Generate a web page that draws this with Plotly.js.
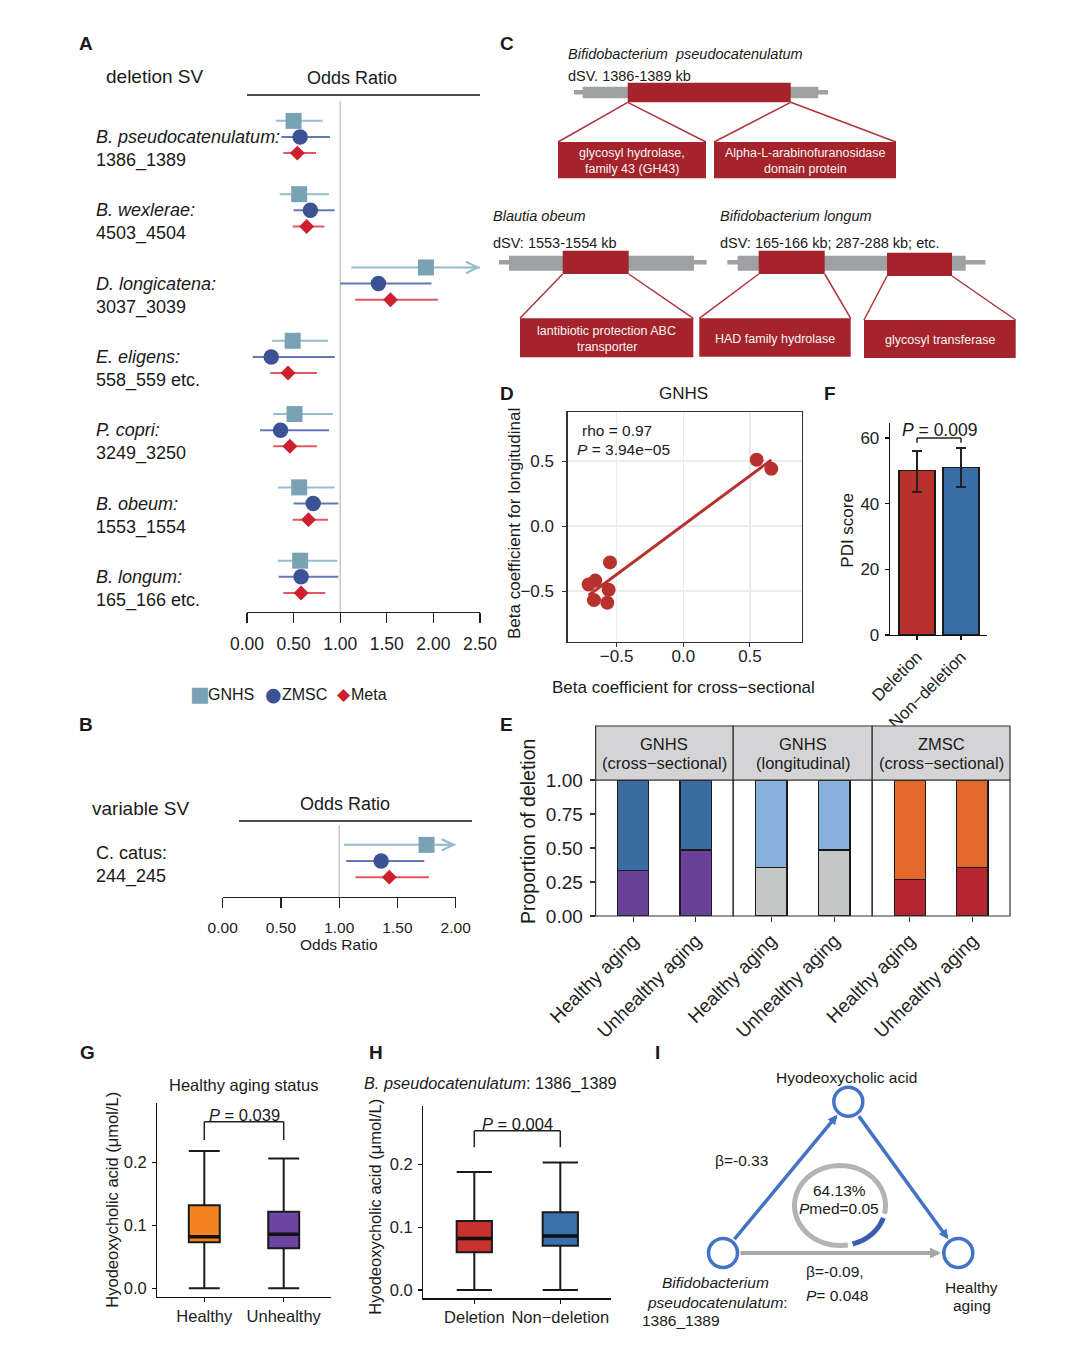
<!DOCTYPE html>
<html><head><meta charset="utf-8">
<script src="https://cdn.plot.ly/plotly-3.0.1.min.js"></script>
<style>html,body{margin:0;padding:0;background:#fff}#chart{width:1080px;height:1363px}</style>
</head><body><div id="chart"></div>
<script>
// ================= DATA =================
// Panel A: deletion SV forest plot (odds ratios with 95% CI)
const forestSpecies = ['B. pseudocatenulatum:', 'B. wexlerae:', 'D. longicatena:', 'E. eligens:', 'P. copri:', 'B. obeum:', 'B. longum:'];
const forestIds = ['1386_1389', '4503_4504', '3037_3039', '558_559 etc.', '3249_3250', '1553_1554', '165_166 etc.'];
const gnhsOR = [0.50, 0.56, 1.92, 0.49, 0.51, 0.56, 0.57];
const gnhsLo = [0.31, 0.35, 1.12, 0.27, 0.28, 0.33, 0.33];
const gnhsHi = [0.81, 0.88, 2.50, 0.87, 0.92, 0.94, 0.97];
const zmscOR = [0.57, 0.68, 1.41, 0.26, 0.36, 0.71, 0.58];
const zmscLo = [0.37, 0.50, 1.00, 0.06, 0.14, 0.50, 0.34];
const zmscHi = [0.89, 0.94, 1.98, 0.94, 0.88, 0.98, 0.98];
const metaOR = [0.54, 0.64, 1.54, 0.44, 0.46, 0.66, 0.58];
const metaLo = [0.39, 0.49, 1.16, 0.25, 0.28, 0.49, 0.39];
const metaHi = [0.74, 0.83, 2.05, 0.75, 0.75, 0.87, 0.84];
// Panel B: variable SV
const varSpecies = ['C. catus:'];
const varIds = ['244_245'];
const varGnhsOR = [1.75], varGnhsLo = [1.04], varGnhsHi = [2.00];
const varZmscOR = [1.36], varZmscLo = [1.06], varZmscHi = [1.73];
const varMetaOR = [1.43], varMetaLo = [1.14], varMetaHi = [1.77];
// Panel D: beta coefficients
const crossBeta = [0.55, 0.66, -0.55, -0.71, -0.66, -0.67, -0.56, -0.57];
const longBeta  = [0.51, 0.44, -0.28, -0.45, -0.42, -0.57, -0.49, -0.59];
// Panel E: proportion of deletion
const propCats = ['Healthy aging', 'Unhealthy aging'];
const facetNames = [['GNHS', '(cross\u2212sectional)'], ['GNHS', '(longitudinal)'], ['ZMSC', '(cross\u2212sectional)']];
const propGnhsCross = [0.333, 0.485];
const propGnhsLong  = [0.355, 0.485];
const propZmscCross = [0.270, 0.358];
// Panel F: PDI score
const pdiCats = ['Deletion', 'Non\u2212deletion'];
const pdiMean = [50.1, 51.1];
const pdiLo = [43.7, 45.0];
const pdiHi = [56.2, 56.9];
const pdiP = '0.009';
// Panel G: HDCA by healthy aging status
const agingCats = ['Healthy', 'Unhealthy'];
const agingLow = [0, 0], agingQ1 = [0.073, 0.0635], agingMed = [0.082, 0.0857], agingQ3 = [0.132, 0.1217], agingHigh = [0.218, 0.206];
const agingP = '0.039';
// Panel H: HDCA by deletion status
const svCats = ['Deletion', 'Non\u2212deletion'];
const svLow = [0, 0], svQ1 = [0.060, 0.0705], svMed = [0.082, 0.086], svQ3 = [0.110, 0.1237], svHigh = [0.188, 0.203];
const svP = '0.004';

// ================= HELPERS =================
const W = 1080, H = 1363;
const X = v => v / W, Y = v => 1 - v / H;
const FONT = 'Liberation Sans, Arial, Helvetica, sans-serif';
const TXT = '#1a1a1a';
const annotations = [], shapes = [], traces = [];
function T(text, x, y, size, anchor, extra) {
  annotations.push(Object.assign({text, x: X(x), y: Y(y), xref: 'paper', yref: 'paper', showarrow: false,
    xanchor: anchor || 'center', yanchor: 'middle', align: anchor || 'center', xshift: anchor === 'left' ? -2 : 0,
    font: {family: FONT, size: size, color: TXT}}, extra || {}));
}
function L(x0, y0, x1, y1, color, width) {
  shapes.push({type: 'line', xref: 'paper', yref: 'paper', x0: X(x0), y0: Y(y0), x1: X(x1), y1: Y(y1), line: {color, width}});
}
function R(x0, y0, x1, y1, fill, lineColor, lw) {
  shapes.push({type: 'rect', xref: 'paper', yref: 'paper', x0: X(x0), y0: Y(y1), x1: X(x1), y1: Y(y0), fillcolor: fill, line: {color: lineColor || fill, width: lw || 0}});
}

// ================= PANEL A & B: forest =================
const series = [
  {name: 'GNHS', or: gnhsOR, lo: gnhsLo, hi: gnhsHi, vor: varGnhsOR, vlo: varGnhsLo, vhi: varGnhsHi, symbol: 'square', size: 16, color: '#7AA2B5', lc: '#96BDCD', off: -0.22, glyph: '\u25A0', gs: 21, gx: 200, tx: 209},
  {name: 'ZMSC', or: zmscOR, lo: zmscLo, hi: zmscHi, vor: varZmscOR, vlo: varZmscLo, vhi: varZmscHi, symbol: 'circle', size: 15.5, color: '#3B5394', lc: '#6279B1', off: 0, glyph: '\u25CF', gs: 19, gx: 273, tx: 283},
  {name: 'Meta', or: metaOR, lo: metaLo, hi: metaHi, vor: varMetaOR, vlo: varMetaLo, vhi: varMetaHi, symbol: 'diamond', size: 11.5, color: '#CD1F2E', lc: '#E15762', off: 0.22, glyph: '\u25C6', gs: 17, gx: 344, tx: 352}
];
series.forEach(s => {
  traces.push({type: 'scatter', mode: 'markers', name: s.name, x: s.or, y: s.or.map((_, i) => i + s.off),
    xaxis: 'x', yaxis: 'y', marker: {symbol: s.symbol, size: s.size, color: s.color, line: {width: 0}},
    error_x: {type: 'data', symmetric: false, array: s.hi.map((h, i) => h - s.or[i]), arrayminus: s.lo.map((l, i) => s.or[i] - l), color: s.lc, thickness: 2, width: 0},
    cliponaxis: false});
  traces.push({type: 'scatter', mode: 'markers', name: s.name, x: s.vor, y: s.vor.map((_, i) => i + s.off),
    xaxis: 'x2', yaxis: 'y2', marker: {symbol: s.symbol, size: s.size, color: s.color, line: {width: 0}},
    error_x: {type: 'data', symmetric: false, array: s.vhi.map((h, i) => h - s.vor[i]), arrayminus: s.vlo.map((l, i) => s.vor[i] - l), color: s.lc, thickness: 2, width: 0},
    cliponaxis: false});
  // arrows for CIs truncated at the axis maximum
  s.hi.forEach((h, i) => { if (h >= 2.5) annotations.push({x: 2.5, y: i + s.off, xref: 'x', yref: 'y', ax: 2.3, ay: i + s.off, axref: 'x', ayref: 'y', text: '', showarrow: true, arrowhead: 5, arrowsize: 1.5, arrowwidth: 1.5, arrowcolor: s.lc}); });
  s.vhi.forEach((h, i) => { if (h >= 2.0) annotations.push({x: 2.0, y: i + s.off, xref: 'x2', yref: 'y2', ax: 1.8, ay: i + s.off, axref: 'x2', ayref: 'y2', text: '', showarrow: true, arrowhead: 5, arrowsize: 1.5, arrowwidth: 1.5, arrowcolor: s.lc}); });
  // legend entry (glyph + label)
  T(s.glyph, s.gx, 694, s.gs, 'center', {borderpad: 0, font: {family: 'DejaVu Sans', size: s.gs, color: s.color}});
  T(s.name, s.tx, 694, 16, 'left', {borderpad: 0});
});
forestSpecies.forEach((sp, i) => {
  annotations.push({text: '<i>' + sp + '</i><br>' + forestIds[i], x: X(96), xref: 'paper', y: i + 0.165, yref: 'y', xanchor: 'left', yanchor: 'middle', align: 'left', xshift: -2, showarrow: false, font: {family: FONT, size: 18, color: TXT}});
});
varSpecies.forEach((sp, i) => {
  annotations.push({text: sp + '<br>' + varIds[i], x: X(96), xref: 'paper', y: i + 0.06, yref: 'y2', xanchor: 'left', yanchor: 'middle', align: 'left', xshift: -2, showarrow: false, font: {family: FONT, size: 18, color: TXT}});
});
shapes.push({type: 'line', xref: 'x', x0: 1, x1: 1, yref: 'y domain', y0: 0, y1: 1, line: {color: '#C9C9C9', width: 1.5}, layer: 'below'});
shapes.push({type: 'line', xref: 'x2', x0: 1, x1: 1, yref: 'y2 domain', y0: 0, y1: 1, line: {color: '#C9C9C9', width: 1.5}, layer: 'below'});
L(247, 95, 480, 95, '#111', 1.3);
L(239, 821, 472, 821, '#111', 1.3);
T('<b>A</b>', 86, 43, 19);
T('deletion SV', 105.7, 77, 19, 'left');
T('Odds Ratio', 352, 78, 18);
T('<b>B</b>', 86, 724, 19);
T('variable SV', 92, 808, 19, 'left');
T('Odds Ratio', 345, 804, 18);
T('Odds Ratio', 339, 944, 15.5);

// ================= PANEL C: gene diagrams =================
const RED = '#A5232B', GRAY = '#9FA0A2', LRED = '#B0343A';
T('<b>C</b>', 507, 43, 19);
T('<i>Bifidobacterium \u00a0pseudocatenulatum</i>', 568, 54, 14.5, 'left');
T('dSV. 1386-1389 kb', 568, 76, 14.5, 'left');
T('<i>Blautia obeum</i>', 492.7, 216, 14.5, 'left');
T('dSV: 1553-1554 kb', 493, 242.7, 14.5, 'left');
T('<i>Bifidobacterium longum</i>', 720, 216, 14.5, 'left');
T('dSV: 165-166 kb; 287-288 kb; etc.', 720, 242.7, 14.5, 'left');
// top genome
L(574, 92.3, 828, 92.3, GRAY, 4.5); R(582.7, 86.7, 818.3, 98.3, GRAY); R(627.7, 82.7, 790.7, 102.3, RED);
L(627.7, 102.3, 558, 142, LRED, 1.5); L(627.7, 102.3, 706, 142, LRED, 1.5);
L(790.7, 102.3, 714, 142, LRED, 1.5); L(790.7, 102.3, 896, 142, LRED, 1.5);
R(558, 142, 706, 178.3, RED); R(714, 142, 896, 178.3, RED);
// Blautia
L(499, 262.3, 706.7, 262.3, GRAY, 4.5); R(509, 255.7, 694, 270.7, GRAY); R(562.7, 250.7, 628.7, 274, RED);
L(562.7, 274, 520, 318.3, LRED, 1.5); L(628.7, 274, 693.3, 318.3, LRED, 1.5);
R(520, 318.3, 693.3, 357.3, RED);
// B. longum
L(727.3, 262.3, 985.4, 262.3, GRAY, 4.5); R(737.7, 255.7, 965.7, 270.7, GRAY);
R(758.7, 250.7, 824.7, 274, RED); R(887, 252.7, 952, 276, RED);
L(758.7, 274, 699.3, 318.3, LRED, 1.5); L(824.7, 274, 850.7, 318.3, LRED, 1.5);
L(887, 276, 864, 320, LRED, 1.5); L(952, 276, 1015.7, 320, LRED, 1.5);
R(699.3, 318.3, 850.7, 356.7, RED); R(864, 320, 1015.7, 358, RED);
const WT = '#F4F4F4';
[['glycosyl hydrolase,', 632, 153], ['family 43 (GH43)', 632, 169], ['Alpha-L-arabinofuranosidase', 805, 153], ['domain protein', 805, 169],
 ['lantibiotic protection ABC', 606.7, 330.7], ['transporter', 606.7, 346.7], ['HAD family hydrolase', 775, 339.3], ['glycosyl transferase', 940, 339.5]]
 .forEach(a => T(a[0], a[1], a[2], 12.5, 'center', {font: {family: FONT, size: 12.5, color: WT}}));

// ================= PANEL D: scatter =================
const n = crossBeta.length;
const mx = crossBeta.reduce((a, b) => a + b, 0) / n, my = longBeta.reduce((a, b) => a + b, 0) / n;
let sxy = 0, sxx = 0;
for (let i = 0; i < n; i++) { sxy += (crossBeta[i] - mx) * (longBeta[i] - my); sxx += (crossBeta[i] - mx) ** 2; }
const slope = sxy / sxx, icpt = my - slope * mx;
const fitX = [Math.min(...crossBeta), Math.max(...crossBeta)];
traces.push({type: 'scatter', mode: 'lines', x: fitX, y: fitX.map(v => icpt + slope * v), xaxis: 'x3', yaxis: 'y3', line: {color: '#B8322D', width: 3}});
traces.push({type: 'scatter', mode: 'markers', x: crossBeta, y: longBeta, xaxis: 'x3', yaxis: 'y3', marker: {size: 14, color: '#B8322D'}});
T('<b>D</b>', 507, 393, 19);
T('GNHS', 683, 393, 17);
T('rho = 0.97', 581.7, 430.7, 15.5, 'left');
T('<i>P</i> = 3.94e\u221205', 577, 449.3, 15.5, 'left');
T('Beta coefficient for cross\u2212sectional', 683, 688, 17);
T('Beta coefficient for longitudinal', 514, 524, 17, 'center', {textangle: -90});

// ================= PANEL F: bars =================
traces.push({type: 'bar', x: pdiCats, y: pdiMean, xaxis: 'x4', yaxis: 'y4', width: 0.82,
  marker: {color: ['#B8312C', '#396DA5'], line: {color: '#1a1a1a', width: 1.3}},
  error_y: {type: 'data', symmetric: false, array: pdiHi.map((h, i) => h - pdiMean[i]), arrayminus: pdiLo.map((l, i) => pdiMean[i] - l), color: '#222', thickness: 2, width: 5}});
const fY = 60, fDrop = 1.4;
[[0, fY, 1, fY], [0, fY, 0, fY - fDrop], [1, fY, 1, fY - fDrop]].forEach(c => shapes.push({type: 'line', xref: 'x4', yref: 'y4', x0: c[0], y0: c[1], x1: c[2], y1: c[3], line: {color: '#222', width: 1.5}}));
T('<b>F</b>', 830, 393, 19);
annotations.push({text: '<i>P</i> = ' + pdiP, x: 0.5, y: fY, xref: 'x4', yref: 'y4', yanchor: 'bottom', showarrow: false, font: {family: FONT, size: 17.5, color: TXT}, yshift: -4});
T('PDI score', 846.7, 530, 17, 'center', {textangle: -90});

// ================= PANEL E: stacked proportions =================
const propSets = [propGnhsCross, propGnhsLong, propZmscCross];
const lowCol = ['#6A4199', '#C5C7C6', '#B5262F'];
const upCol = ['#3A6BA1', '#87B1DC', '#E4682B'];
const facetPx = [[595.6, 733.2], [733.2, 872.2], [872.2, 1010]];
propSets.forEach((vals, k) => {
  const xa = 'x' + (5 + k);
  traces.push({type: 'bar', x: propCats, y: vals, xaxis: xa, yaxis: 'y5', width: 0.5, marker: {color: lowCol[k], line: {color: '#1a1a1a', width: 1.2}}});
  traces.push({type: 'bar', x: propCats, y: vals.map(v => 1 - v), xaxis: xa, yaxis: 'y5', width: 0.5, marker: {color: upCol[k], line: {color: '#1a1a1a', width: 1.2}}});
  shapes.push({type: 'rect', xref: xa + ' domain', yref: 'y5 domain', x0: 0, x1: 1, y0: 0, y1: 1, line: {color: '#333', width: 1.2}, fillcolor: 'rgba(0,0,0,0)', layer: 'above'});
  shapes.push({type: 'rect', xref: xa + ' domain', yref: 'paper', x0: 0, x1: 1, y0: Y(780), y1: Y(726), line: {color: '#333', width: 1.2}, fillcolor: '#D4D4D6'});
  const cx = (facetPx[k][0] + facetPx[k][1]) / 2;
  T(facetNames[k][0], cx, 744.3, 16.5);
  T(facetNames[k][1], cx, 762.7, 16.5);
});
T('<b>E</b>', 506, 724, 19);
T('Proportion of deletion', 528, 832, 19.5, 'center', {textangle: -90});

// ================= PANEL G & H: boxplots =================
function boxes(cats, lo, q1, med, q3, hi, colors, xa, ya, w) {
  cats.forEach((c, i) => {
    traces.push({type: 'box', name: c, x: [i], q1: [q1[i]], median: [med[i]], q3: [q3[i]], lowerfence: [lo[i]], upperfence: [hi[i]],
      xaxis: xa, yaxis: ya, width: w, whiskerwidth: 1, fillcolor: colors[i], line: {color: '#1a1a1a', width: 2}, boxpoints: false});
    traces.push({type: 'scatter', mode: 'lines', x: [i - w / 2, i + w / 2], y: [med[i], med[i]], xaxis: xa, yaxis: ya, line: {color: '#111', width: 3.5}});
  });
}
boxes(agingCats, agingLow, agingQ1, agingMed, agingQ3, agingHigh, ['#F3821F', '#6C44A1'], 'x8', 'y8', 0.39);
boxes(svCats, svLow, svQ1, svMed, svQ3, svHigh, ['#C8322E', '#3B70AD'], 'x9', 'y9', 0.41);
function bracket(xa, ya, yTop, yBot, label) {
  [[0, yTop, 1, yTop], [0, yTop, 0, yBot], [1, yTop, 1, yBot]].forEach(c => shapes.push({type: 'line', xref: xa, yref: ya, x0: c[0], y0: c[1], x1: c[2], y1: c[3], line: {color: '#222', width: 1.5}}));
  annotations.push({text: '<i>P</i> = ' + label, x: 0.5, y: yTop, xref: xa, yref: ya, yanchor: 'bottom', showarrow: false, font: {family: FONT, size: 16.5, color: TXT}, yshift: -4});
}
bracket('x8', 'y8', 0.2644, 0.2354, agingP);
bracket('x9', 'y9', 0.2537, 0.2272, svP);
T('<b>G</b>', 87, 1052, 19);
T('Healthy aging status', 244, 1085.3, 16.5);
T('Hyodeoxycholic acid (\u03bcmol/L)', 111.7, 1200, 16.5, 'center', {textangle: -90});
T('<b>H</b>', 376, 1052, 19);
T('<i>B. pseudocatenulatum</i>: 1386_1389', 490, 1083.3, 16.3);
T('Hyodeoxycholic acid (\u03bcmol/L)', 375, 1206.7, 16.5, 'center', {textangle: -90});

// ================= PANEL I: mediation diagram =================
const BLUE = '#4472C4';
function circ(cx, cy, r) { shapes.push({type: 'circle', xref: 'paper', yref: 'paper', x0: X(cx - r), x1: X(cx + r), y0: Y(cy + r), y1: Y(cy - r), line: {color: BLUE, width: 3.5}, fillcolor: '#fff', layer: 'above'}); }
function arrow(x0, y0, x1, y1, color, width) {
  annotations.push({x: X(x1), y: Y(y1), xref: 'paper', yref: 'paper', ax: x0 - x1, ay: y0 - y1, text: '', showarrow: true, arrowhead: 2, arrowsize: 0.55, arrowwidth: width, arrowcolor: color});
}
function arc(cx, cy, rx, ry, a0, a1) {
  let s = '';
  for (let i = 0; i <= 60; i++) { const t = (a0 + (a1 - a0) * i / 60) * Math.PI / 180; s += (i ? 'L' : 'M') + X(cx + rx * Math.cos(t)).toFixed(5) + ',' + Y(cy + ry * Math.sin(t)).toFixed(5); }
  return s;
}
arrow(733.2, 1240.7, 837.5, 1114.8, BLUE, 3.5);
arrow(857.7, 1114.6, 948.3, 1239.2, BLUE, 3.5);
arrow(739, 1253, 941, 1253, '#A6A6A6', 4);
circ(848.3, 1101.7, 14.5); circ(723, 1253, 14.5); circ(958.3, 1253, 14.5);
shapes.push({type: 'path', xref: 'paper', yref: 'paper', path: arc(840, 1205.5, 45.5, 40, 80, 372), line: {color: '#B3B3B3', width: 5}});
shapes.push({type: 'path', xref: 'paper', yref: 'paper', path: arc(840, 1205.5, 45.5, 40, 18, 74), line: {color: '#3A5EAD', width: 5}});
T('<b>I</b>', 657, 1052, 19);
T('Hyodeoxycholic acid', 846, 1077, 15.5);
T('\u03b2=-0.33', 741.7, 1160, 15.5);
T('64.13%', 839.3, 1190.7, 15.5);
T('<i>P</i>med=0.05', 839.3, 1208.3, 15.5);
T('\u03b2=-0.09,', 805.7, 1271.7, 15.5, 'left');
T('<i>P</i>= 0.048', 805.7, 1295, 15.5, 'left');
T('<i>Bifidobacterium</i>', 715, 1282.3, 15.5);
T('<i>pseudocatenulatum</i>:', 717.5, 1302.7, 15.5);
T('1386_1389', 641.7, 1320, 15.5, 'left');
T('Healthy', 971.7, 1287, 15.5);
T('aging', 971.7, 1305.7, 15.5);

// ================= LAYOUT =================
const tf = s => ({family: FONT, size: s, color: '#222'});
const hid = {visible: false, fixedrange: true};
const blackAxis = {showline: true, linecolor: '#111', linewidth: 1.3, ticks: 'outside', ticklen: 4, tickwidth: 1.3, tickcolor: '#111', showgrid: false, zeroline: false};
const layout = {
  width: W, height: H, margin: {l: 0, r: 0, t: 0, b: 0}, paper_bgcolor: '#fff', plot_bgcolor: 'rgba(0,0,0,0)',
  font: {family: FONT, color: TXT}, hovermode: false, barmode: 'stack', boxmode: 'overlay',
  showlegend: false,
  // A
  xaxis: Object.assign({}, blackAxis, {domain: [X(247), X(480)], range: [0, 2.5], anchor: 'y', ticklen: 10, tickvals: [0, 0.5, 1, 1.5, 2, 2.5], tickformat: '.2f', tickfont: tf(17.5), ticklabelstandoff: 6, linecolor: '#222', tickcolor: '#222'}),
  yaxis: Object.assign({}, hid, {domain: [Y(612), Y(101)], range: [6.48, -0.491], anchor: 'x'}),
  // B
  xaxis2: Object.assign({}, blackAxis, {domain: [X(222.7), X(455.7)], range: [0, 2], anchor: 'y2', ticklen: 10, tickvals: [0, 0.5, 1, 1.5, 2], tickformat: '.2f', tickfont: tf(15.5), ticklabelstandoff: 6, linecolor: '#222', tickcolor: '#222'}),
  yaxis2: Object.assign({}, hid, {domain: [Y(897), Y(825)], range: [0.491, -0.491], anchor: 'x2'}),
  // D
  xaxis3: {domain: [X(567.7), X(801.7)], range: [-0.867, 0.888], anchor: 'y3', showline: true, mirror: true, linecolor: '#333', linewidth: 1.3, ticks: 'outside', ticklen: 4, tickcolor: '#333', showgrid: true, gridcolor: '#EBEBEB', gridwidth: 1.2, zeroline: false, tickvals: [-0.5, 0, 0.5], tickformat: '.1f', tickfont: tf(17), ticklabelstandoff: -5},
  yaxis3: {domain: [Y(641.7), Y(412.3)], range: [-0.89, 0.875], anchor: 'x3', showline: true, mirror: true, linecolor: '#333', linewidth: 1.3, ticks: 'outside', ticklen: 4, tickcolor: '#333', showgrid: true, gridcolor: '#EBEBEB', gridwidth: 1.2, zeroline: false, tickvals: [-0.5, 0, 0.5], tickformat: '.1f', tickfont: tf(17), ticklabelstandoff: 5},
  // F
  xaxis4: Object.assign({}, blackAxis, {domain: [X(890), X(986.7)], type: 'category', range: [-0.614, 1.584], anchor: 'y4', tickangle: -45, tickfont: tf(17)}),
  yaxis4: Object.assign({}, blackAxis, {domain: [Y(635), Y(422.7)], range: [0, 64.7], anchor: 'x4', tickvals: [0, 20, 40, 60], tickfont: tf(17), ticklabelstandoff: 2}),
  // E
  xaxis5: {domain: [X(595.6), X(733.2)], type: 'category', range: [-0.6, 1.6], anchor: 'y5', ticks: 'outside', ticklen: 5, tickcolor: '#333', tickwidth: 1.2, tickangle: -45, tickfont: tf(19), showgrid: false, zeroline: false, showline: false},
  xaxis6: {domain: [X(733.2), X(872.2)], type: 'category', range: [-0.6, 1.6], anchor: 'y5', ticks: 'outside', ticklen: 5, tickcolor: '#333', tickwidth: 1.2, tickangle: -45, tickfont: tf(19), showgrid: false, zeroline: false, showline: false},
  xaxis7: {domain: [X(872.2), X(1010)], type: 'category', range: [-0.6, 1.6], anchor: 'y5', ticks: 'outside', ticklen: 5, tickcolor: '#333', tickwidth: 1.2, tickangle: -45, tickfont: tf(19), showgrid: false, zeroline: false, showline: false},
  yaxis5: {domain: [Y(916), Y(780)], range: [0, 1], anchor: 'x5', ticks: 'outside', ticklen: 5, tickcolor: '#333', tickwidth: 1.2, tickvals: [0, 0.25, 0.5, 0.75, 1], tickformat: '.2f', tickfont: tf(19), showgrid: false, zeroline: false, showline: false, ticklabelstandoff: 3},
  // G
  xaxis8: Object.assign({}, blackAxis, {domain: [X(157.3), X(330.7)], range: [-0.592, 1.592], anchor: 'y8', tickvals: [0, 1], ticktext: agingCats, tickfont: tf(16.5)}),
  yaxis8: Object.assign({}, blackAxis, {domain: [Y(1296.7), Y(1103.3)], range: [-0.0133, 0.2937], anchor: 'x8', tickvals: [0, 0.1, 0.2], tickformat: '.1f', tickfont: tf(16.5), ticklabelstandoff: 2}),
  // H
  xaxis9: Object.assign({}, blackAxis, {domain: [X(423.3), X(610.7)], range: [-0.593, 1.586], anchor: 'y9', tickvals: [0, 1], ticktext: svCats, tickfont: tf(16.5)}),
  yaxis9: Object.assign({}, blackAxis, {domain: [Y(1298.3), Y(1106)], range: [-0.0132, 0.293], anchor: 'x9', tickvals: [0, 0.1, 0.2], tickformat: '.1f', tickfont: tf(16.5), ticklabelstandoff: 2}),
  shapes, annotations
};
Plotly.newPlot('chart', traces, layout, {displayModeBar: false, staticPlot: true});
</script></body></html>
